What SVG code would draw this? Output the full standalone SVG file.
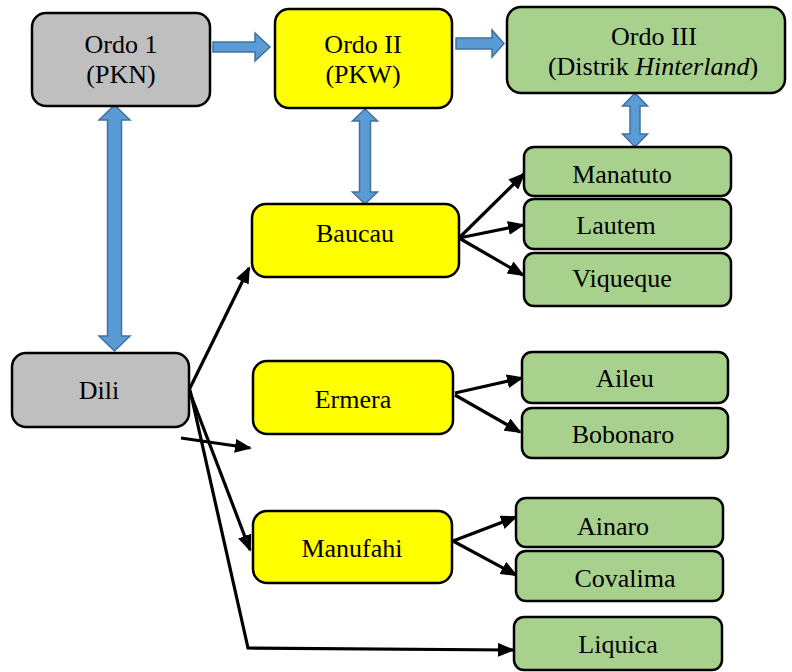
<svg xmlns="http://www.w3.org/2000/svg" width="792" height="672" viewBox="0 0 792 672">
<style>
.box{stroke:#000;stroke-width:2.5}
.gray{fill:#BFBFBF}
.yel{fill:#FFFF00}
.grn{fill:#A9D18E}
.t{font-family:'Liberation Serif','Times New Roman','DejaVu Serif',serif;font-size:26px;fill:#000;text-anchor:middle}
.blk{fill:#5B9BD5;stroke:#41719C;stroke-width:1.5;stroke-linejoin:miter}
.ln{fill:none;stroke:#000;stroke-width:3.2;marker-end:url(#ah)}
</style>
<defs>
<marker id="ah" markerUnits="userSpaceOnUse" markerWidth="17" markerHeight="14" refX="15" refY="7" orient="auto">
<path d="M0,0 L17,7 L0,14 Z" fill="#000"/>
</marker>
</defs>
<rect width="792" height="672" fill="#fff"/>
<g id="connectors">
<path class="blk" d="M213,42 H255 V33 L270,47 L255,61 V52 H213 Z"/>
<path class="blk" d="M456,38 H492 V30 L504,43.5 L492,57 V49 H456 Z"/>
<path class="blk" d="M114.5,105 L130,120 H121.5 V336 H130 L114.5,351 L99,336 H107.5 V120 H99 Z"/>
<path class="blk" d="M365,109 L377.5,121 H370.5 V192 H377.5 L365,204 L352.5,192 H359.5 V121 H352.5 Z"/>
<path class="blk" d="M635,93 L647.5,106 H640 V134 H647.5 L635,147 L622.5,134 H630 V106 H622.5 Z"/>
<line class="ln" x1="189" y1="390" x2="249" y2="268"/>
<line class="ln" x1="181" y1="438" x2="250" y2="448"/>
<line class="ln" x1="189" y1="390" x2="250" y2="550"/>
<polyline class="ln" points="190,390 248,648 513,650"/>
<line class="ln" x1="459" y1="238" x2="524" y2="174"/>
<line class="ln" x1="459" y1="238" x2="523" y2="225"/>
<line class="ln" x1="459" y1="238" x2="523" y2="275"/>
<line class="ln" x1="455" y1="393" x2="522" y2="378"/>
<line class="ln" x1="455" y1="395" x2="520" y2="432"/>
<line class="ln" x1="453" y1="541" x2="516" y2="517"/>
<line class="ln" x1="453" y1="541" x2="516" y2="575"/>
</g>
<g font-family="Liberation Serif, Times New Roman, DejaVu Serif, serif">
<g id="ordo1"><rect class="box gray" x="32" y="13" width="178" height="93" rx="14"/><text class="t" x="121" y="53">Ordo 1</text><text class="t" x="121" y="83">(PKN)</text></g>
<g id="ordo2"><rect class="box yel" x="275" y="9" width="177" height="99" rx="14"/><text class="t" x="363" y="53">Ordo II</text><text class="t" x="363" y="83">(PKW)</text></g>
<g id="ordo3"><rect class="box grn" x="507" y="7" width="278" height="86" rx="14"/><text class="t" x="654" y="45">Ordo III</text><text class="t" x="653" y="75">(Distrik <tspan font-style="italic">Hinterland</tspan>)</text></g>
<g id="dili"><rect class="box gray" x="12" y="353" width="177" height="74" rx="14"/><text class="t" x="99" y="399">Dili</text></g>
<g id="baucau"><rect class="box yel" x="252" y="204" width="207" height="73" rx="14"/><text class="t" x="355" y="242">Baucau</text></g>
<g id="ermera"><rect class="box yel" x="253" y="361" width="200" height="73" rx="14"/><text class="t" x="353" y="408">Ermera</text></g>
<g id="manufahi"><rect class="box yel" x="253" y="511" width="199" height="72" rx="14"/><text class="t" x="352" y="557">Manufahi</text></g>
<g id="manatuto"><rect class="box grn" x="524" y="147" width="207" height="49" rx="10"/><text class="t" x="622" y="183">Manatuto</text></g>
<g id="lautem"><rect class="box grn" x="524" y="199" width="207" height="50" rx="10"/><text class="t" x="616" y="234">Lautem</text></g>
<g id="viqueque"><rect class="box grn" x="524" y="253" width="207" height="53" rx="10"/><text class="t" x="622" y="287">Viqueque</text></g>
<g id="aileu"><rect class="box grn" x="522" y="352" width="206" height="51" rx="10"/><text class="t" x="625" y="387">Aileu</text></g>
<g id="bobonaro"><rect class="box grn" x="522" y="408" width="206" height="50" rx="10"/><text class="t" x="623" y="443">Bobonaro</text></g>
<g id="ainaro"><rect class="box grn" x="516" y="498" width="207" height="49" rx="10"/><text class="t" x="613" y="535">Ainaro</text></g>
<g id="covalima"><rect class="box grn" x="516" y="551" width="207" height="50" rx="10"/><text class="t" x="625" y="587">Covalima</text></g>
<g id="liquica"><rect class="box grn" x="514" y="617" width="208" height="53" rx="10"/><text class="t" x="618" y="653">Liquica</text></g>
</g>
</svg>
